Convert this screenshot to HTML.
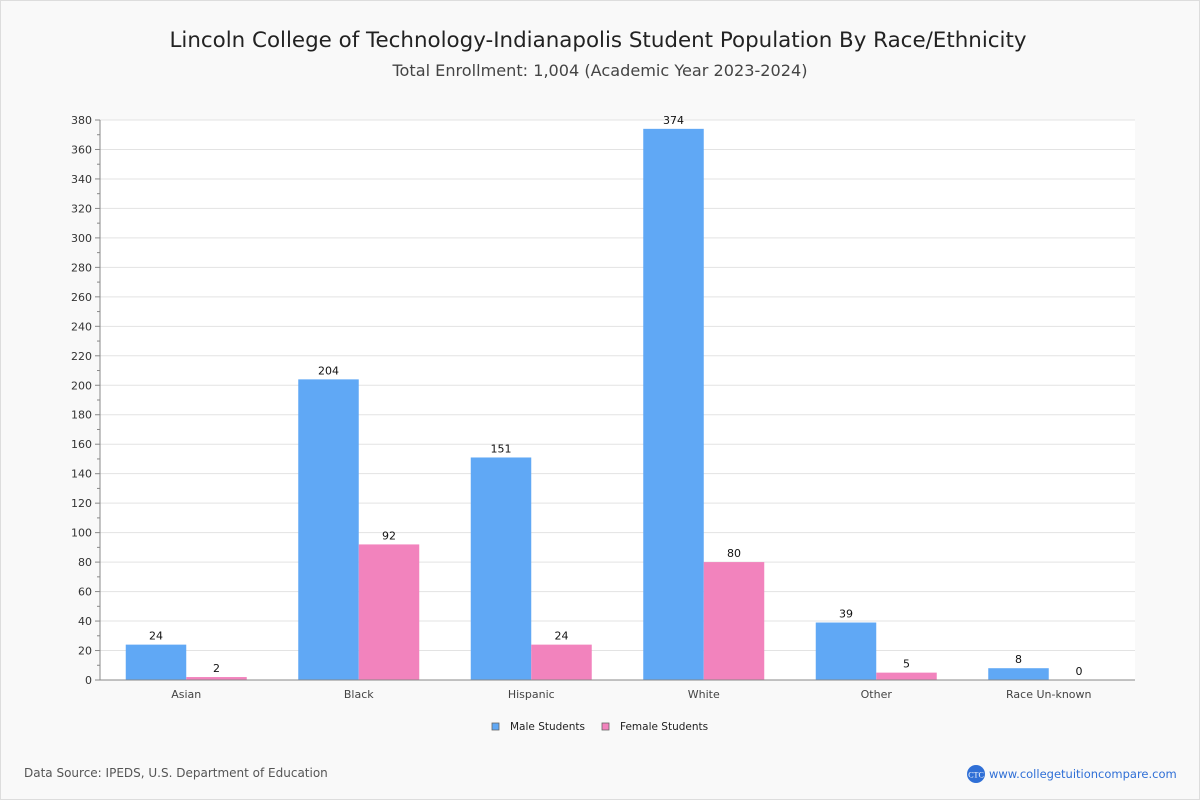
<!DOCTYPE html>
<html><head><meta charset="utf-8"><style>
body{margin:0;background:#f9f9f9;font-family:"DejaVu Sans","Liberation Sans",sans-serif;}
#wrap{position:relative;width:1200px;height:800px;overflow:hidden;box-sizing:border-box;border:1px solid #ddd;background:#f9f9f9}
</style></head><body>
<div id="wrap">
<svg id="chart" width="1200" height="800" xmlns="http://www.w3.org/2000/svg" style="position:absolute;left:-1px;top:-1px">
<text x="598" y="47" text-anchor="middle" font-size="21.4" fill="#222">Lincoln College of Technology-Indianapolis Student Population By Race/Ethnicity</text>
<text x="600" y="76" text-anchor="middle" font-size="16.1" fill="#444">Total Enrollment: 1,004 (Academic Year 2023-2024)</text>
<rect x="100" y="120" width="1035" height="560" fill="#fff"/>
<g id="grid"></g><g id="bars"></g><g id="axes"></g>
<g>
<rect x="492" y="723" width="7" height="7" fill="#60a8f5" stroke="#666" stroke-width="0.8"/>
<text x="510" y="730" font-size="10.5" fill="#222">Male Students</text>
<rect x="602" y="723" width="7" height="7" fill="#f283bd" stroke="#666" stroke-width="0.8"/>
<text x="620" y="730" font-size="10.5" fill="#222">Female Students</text>
</g>
<text x="24" y="777" font-size="12" fill="#555">Data Source: IPEDS, U.S. Department of Education</text>
<g>
<circle cx="976" cy="774" r="9" fill="#2f6fd6"/>
<text x="976" y="777.5" text-anchor="middle" font-size="8" fill="#fff" font-family="Liberation Serif,serif">CTC</text>
<text x="989" y="778" font-size="11.5" fill="#2f6fd6">www.collegetuitioncompare.com</text>
</g>
</svg></div>
<script>
const categories=["Asian","Black","Hispanic","White","Other","Race Un-known"];
const maleValues=[24,204,151,374,39,8];
const femaleValues=[2,92,24,80,5,0];
const yTicks=[0,20,40,60,80,100,120,140,160,180,200,220,240,260,280,300,320,340,360,380];
const NS="http://www.w3.org/2000/svg";
const x0=100,x1=1135,yTop=120,yBot=680,yMax=380;
const y=v=>yBot-(v/yMax)*(yBot-yTop);
const band=(x1-x0)/categories.length;
const bw=60.5;
function mk(tag,attrs,parent,text){const e=document.createElementNS(NS,tag);for(const k in attrs)e.setAttribute(k,attrs[k]);if(text!==undefined)e.textContent=text;parent.appendChild(e);return e;}
const grid=document.getElementById('grid'),bars=document.getElementById('bars'),axes=document.getElementById('axes');
yTicks.forEach(t=>{
 if(t>0){const l=mk('line',{x1:x0,x2:x1,y1:y(t),y2:y(t),stroke:'#e3e3e3'},grid);
 
 }
 const tk=mk('line',{x1:x0-5,x2:x0,y1:y(t),y2:y(t),stroke:'#888'},axes);
 
 
 if(t+10<yMax){const mt=mk('line',{x1:x0-3,x2:x0,y1:y(t+10),y2:y(t+10),stroke:'#888'},axes);
 
 }
 const tl=mk('text',{x:x0-8,y:y(t)+4,'text-anchor':'end','font-size':11,fill:'#333'},axes,t);
 
 
});
categories.forEach((c,i)=>{
 const cx=x0+band*(i+0.5);
 [[maleValues[i],'#60a8f5',cx-bw,'male'],[femaleValues[i],'#f283bd',cx,'female']].forEach(([v,col,bx,s])=>{
  const r=mk('rect',{x:bx,y:y(v),width:bw,height:yBot-y(v),fill:col},bars);
  
  
  const t=mk('text',{x:bx+bw/2,y:y(v)-5,'text-anchor':'middle','font-size':11,fill:'#111'},bars,v);
  
  
 });
 const xl=mk('text',{x:cx,y:698,'text-anchor':'middle','font-size':11,fill:'#444'},axes,c);
 
 
});
const ya=mk('line',{x1:x0,x2:x0,y1:yTop,y2:yBot,stroke:'#888'},axes);


const xa=mk('line',{x1:x0,x2:x1,y1:yBot,y2:yBot,stroke:'#888'},axes);


</script>
</body></html>
